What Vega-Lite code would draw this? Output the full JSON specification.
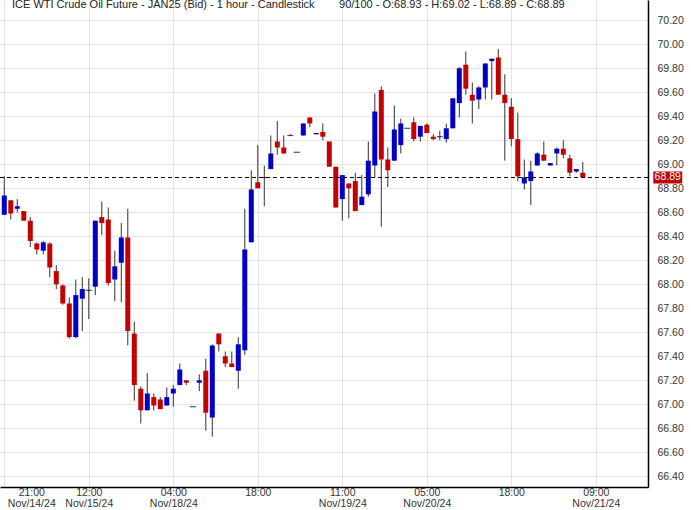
{
  "$schema": "https://vega.github.io/schema/vega-lite/v6.json",
  "width": 648,
  "height": 487,
  "autosize": {"type": "none"},
  "padding": {"left": 0, "top": 0, "right": 43, "bottom": 23},
  "background": "white",
  "config": {
    "view": {"stroke": null},
    "font": "Liberation Sans",
    "axisY": {"labelOverlap": false},
    "axisX": {"labelOverlap": false}
  },
  "title": {
    "text": "ICE WTI Crude Oil Future - JAN25 (Bid) - 1 hour - Candlestick\u00a0\u00a0\u00a0\u00a0\u00a0\u00a0\u00a0 90/100 - O:68.93 - H:69.02 - L:68.89 - C:68.89",
    "anchor": "start",
    "frame": "group",
    "orient": "top",
    "offset": 0,
    "dx": 12,
    "dy": 19,
    "baseline": "alphabetic",
    "font": "Liberation Sans",
    "fontSize": 11,
    "fontWeight": "normal",
    "color": "#222222"
  },
  "datasets": {
    "candles": [
      {"i":0,"o":68.58,"h":68.90,"l":68.58,"c":68.74},
      {"i":1,"o":68.70,"h":68.70,"l":68.54,"c":68.59},
      {"i":2,"o":68.63,"h":68.71,"l":68.60,"c":68.65},
      {"i":3,"o":68.61,"h":68.61,"l":68.53,"c":68.53},
      {"i":4,"o":68.53,"h":68.56,"l":68.31,"c":68.36},
      {"i":5,"o":68.34,"h":68.35,"l":68.25,"c":68.29},
      {"i":6,"o":68.28,"h":68.36,"l":68.25,"c":68.35},
      {"i":7,"o":68.34,"h":68.35,"l":68.06,"c":68.14},
      {"i":8,"o":68.11,"h":68.16,"l":67.96,"c":68.00},
      {"i":9,"o":67.99,"h":68.00,"l":67.83,"c":67.84},
      {"i":10,"o":67.84,"h":67.89,"l":67.55,"c":67.56},
      {"i":11,"o":67.56,"h":68.04,"l":67.55,"c":67.91},
      {"i":12,"o":67.88,"h":68.06,"l":67.61,"c":67.96},
      {"i":13,"o":67.95,"h":68.05,"l":67.71,"c":67.95},
      {"i":14,"o":67.98,"h":68.53,"l":67.91,"c":68.53},
      {"i":15,"o":68.56,"h":68.69,"l":68.41,"c":68.51},
      {"i":16,"o":68.54,"h":68.64,"l":67.99,"c":68.01},
      {"i":17,"o":68.04,"h":68.28,"l":67.86,"c":68.15},
      {"i":18,"o":68.18,"h":68.51,"l":67.85,"c":68.39},
      {"i":19,"o":68.39,"h":68.63,"l":67.49,"c":67.61},
      {"i":20,"o":67.59,"h":67.69,"l":67.03,"c":67.16},
      {"i":21,"o":67.13,"h":67.15,"l":66.84,"c":66.95},
      {"i":22,"o":66.95,"h":67.26,"l":66.95,"c":67.09},
      {"i":23,"o":67.06,"h":67.09,"l":66.95,"c":66.99},
      {"i":24,"o":67.04,"h":67.06,"l":66.96,"c":66.96},
      {"i":25,"o":66.99,"h":67.14,"l":66.99,"c":67.06},
      {"i":26,"o":67.09,"h":67.16,"l":66.98,"c":67.13},
      {"i":27,"o":67.16,"h":67.34,"l":67.16,"c":67.29},
      {"i":28,"o":67.20,"h":67.20,"l":67.16,"c":67.18},
      {"i":29,"o":66.98,"h":66.98,"l":66.98,"c":66.98},
      {"i":30,"o":67.18,"h":67.25,"l":67.11,"c":67.20},
      {"i":31,"o":67.28,"h":67.38,"l":66.78,"c":66.93},
      {"i":32,"o":66.89,"h":67.50,"l":66.73,"c":67.49},
      {"i":33,"o":67.59,"h":67.59,"l":67.44,"c":67.50},
      {"i":34,"o":67.40,"h":67.44,"l":67.31,"c":67.34},
      {"i":35,"o":67.34,"h":67.44,"l":67.31,"c":67.31},
      {"i":36,"o":67.28,"h":67.56,"l":67.13,"c":67.50},
      {"i":37,"o":67.45,"h":68.63,"l":67.41,"c":68.29},
      {"i":38,"o":68.35,"h":68.95,"l":68.35,"c":68.79},
      {"i":39,"o":68.85,"h":69.16,"l":68.80,"c":68.80},
      {"i":40,"o":68.89,"h":68.99,"l":68.65,"c":68.89},
      {"i":41,"o":68.96,"h":69.24,"l":68.96,"c":69.09},
      {"i":42,"o":69.19,"h":69.36,"l":69.08,"c":69.14},
      {"i":43,"o":69.14,"h":69.24,"l":69.09,"c":69.09},
      {"i":44,"o":69.24,"h":69.25,"l":69.24,"c":69.24},
      {"i":45,"o":69.10,"h":69.10,"l":69.10,"c":69.10},
      {"i":46,"o":69.24,"h":69.34,"l":69.24,"c":69.34},
      {"i":47,"o":69.39,"h":69.39,"l":69.31,"c":69.34},
      {"i":48,"o":69.25,"h":69.26,"l":69.25,"c":69.26},
      {"i":49,"o":69.27,"h":69.34,"l":69.20,"c":69.23},
      {"i":50,"o":69.19,"h":69.19,"l":68.98,"c":68.98},
      {"i":51,"o":68.98,"h":68.98,"l":68.64,"c":68.64},
      {"i":52,"o":68.71,"h":68.91,"l":68.53,"c":68.91},
      {"i":53,"o":68.84,"h":68.84,"l":68.55,"c":68.80},
      {"i":54,"o":68.86,"h":68.93,"l":68.61,"c":68.61},
      {"i":55,"o":68.66,"h":68.91,"l":68.66,"c":68.73},
      {"i":56,"o":68.75,"h":69.19,"l":68.73,"c":69.03},
      {"i":57,"o":68.99,"h":69.59,"l":68.89,"c":69.44},
      {"i":58,"o":69.62,"h":69.65,"l":68.48,"c":69.04},
      {"i":59,"o":69.04,"h":69.14,"l":68.81,"c":68.95},
      {"i":60,"o":69.03,"h":69.49,"l":69.03,"c":69.29},
      {"i":61,"o":69.16,"h":69.38,"l":69.09,"c":69.34},
      {"i":62,"o":69.30,"h":69.30,"l":69.30,"c":69.30},
      {"i":63,"o":69.35,"h":69.39,"l":69.19,"c":69.21},
      {"i":64,"o":69.23,"h":69.32,"l":69.19,"c":69.32},
      {"i":65,"o":69.33,"h":69.34,"l":69.26,"c":69.26},
      {"i":66,"o":69.23,"h":69.25,"l":69.20,"c":69.21},
      {"i":67,"o":69.23,"h":69.28,"l":69.20,"c":69.23},
      {"i":68,"o":69.21,"h":69.34,"l":69.18,"c":69.30},
      {"i":69,"o":69.30,"h":69.55,"l":69.30,"c":69.55},
      {"i":70,"o":69.51,"h":69.81,"l":69.39,"c":69.80},
      {"i":71,"o":69.83,"h":69.94,"l":69.58,"c":69.63},
      {"i":72,"o":69.58,"h":69.68,"l":69.34,"c":69.53},
      {"i":73,"o":69.54,"h":69.65,"l":69.46,"c":69.64},
      {"i":74,"o":69.64,"h":69.84,"l":69.54,"c":69.84},
      {"i":75,"o":69.86,"h":69.88,"l":69.54,"c":69.88},
      {"i":76,"o":69.89,"h":69.96,"l":69.58,"c":69.58},
      {"i":77,"o":69.58,"h":69.75,"l":69.03,"c":69.51},
      {"i":78,"o":69.48,"h":69.55,"l":69.15,"c":69.21},
      {"i":79,"o":69.21,"h":69.43,"l":68.86,"c":68.90},
      {"i":80,"o":68.84,"h":69.04,"l":68.79,"c":68.89},
      {"i":81,"o":68.86,"h":69.03,"l":68.66,"c":68.94},
      {"i":82,"o":68.99,"h":69.10,"l":68.99,"c":69.09},
      {"i":83,"o":69.08,"h":69.19,"l":69.03,"c":69.03},
      {"i":84,"o":68.99,"h":69.01,"l":68.99,"c":69.01},
      {"i":85,"o":69.09,"h":69.14,"l":68.99,"c":69.13},
      {"i":86,"o":69.13,"h":69.20,"l":69.05,"c":69.08},
      {"i":87,"o":69.05,"h":69.08,"l":68.90,"c":68.93},
      {"i":88,"o":68.94,"h":68.96,"l":68.93,"c":68.96},
      {"i":89,"o":68.93,"h":69.02,"l":68.89,"c":68.89}
    ],
    "last": [{"last": 68.89}]
  },
  "layer": [
    {
      "data": {"name": "candles"},
      "mark": {"type": "rule", "color": "#333333", "strokeWidth": 1},
      "encoding": {
        "x": {
          "field": "i", "type": "quantitative",
          "scale": {"domain": [-0.66, 99.03], "nice": false, "zero": false, "padding": 0},
          "axis": {
            "orient": "bottom",
            "title": null,
            "values": [0, 13, 26, 39, 52, 65, 78, 91],
            "tickCount": 20,
            "grid": true,
            "gridColor": "#e4e4e4",
            "gridWidth": 1,
            "ticks": false,
            "domainColor": "#000000",
            "domainWidth": 1.5,
            "labelFont": "Liberation Sans",
            "labelFontSize": 10.5,
            "labelColor": "#333333",
            "labelPadding": 0,
            "labelLineHeight": 11,
            "labelFlush": false,
            "labelOverlap": false,
            "labelBaseline": "top",
            "labelOffset": {"condition": {"test": "datum.value === 0", "value": 27}, "value": 0},
            "labelExpr": "datum.value === 0 ? ['21:00', 'Nov/14/24'] : datum.value === 13 ? ['12:00', 'Nov/15/24'] : datum.value === 26 ? ['04:00', 'Nov/18/24'] : datum.value === 39 ? '18:00' : datum.value === 52 ? ['11:00', 'Nov/19/24'] : datum.value === 65 ? ['05:00', 'Nov/20/24'] : datum.value === 78 ? '18:00' : ['09:00', 'Nov/21/24']"
          }
        },
        "y": {
          "field": "l", "type": "quantitative",
          "scale": {"domain": [66.311, 70.369], "nice": false, "zero": false, "padding": 0},
          "axis": {
            "orient": "right",
            "title": null,
            "values": [66.4, 66.6, 66.8, 67.0, 67.2, 67.4, 67.6, 67.8, 68.0, 68.2, 68.4, 68.6, 68.8, 69.0, 69.2, 69.4, 69.6, 69.8, 70.0, 70.2],
            "tickCount": 40,
            "format": ".2f",
            "grid": true,
            "gridColor": "#e4e4e4",
            "gridWidth": 1,
            "ticks": false,
            "domainColor": "#000000",
            "domainWidth": 1.5,
            "labelFont": "Liberation Sans",
            "labelFontSize": 10.5,
            "labelColor": "#333333",
            "labelPadding": 9,
            "labelAlign": "left",
            "labelOverlap": false
          }
        },
        "y2": {"field": "h"}
      }
    },
    {
      "data": {"name": "candles"},
      "transform": [{"filter": "datum.o !== datum.c"}],
      "mark": {"type": "bar", "width": 5},
      "encoding": {
        "x": {"field": "i", "type": "quantitative"},
        "y": {"field": "o", "type": "quantitative"},
        "y2": {"field": "c"},
        "color": {"condition": {"test": "datum.c > datum.o", "value": "#0000c8"}, "value": "#c40000"}
      }
    },
    {
      "data": {"name": "candles"},
      "transform": [{"filter": "datum.o === datum.c"}],
      "mark": {"type": "tick", "orient": "horizontal", "size": 6, "thickness": 1.2, "color": "#000000"},
      "encoding": {
        "x": {"field": "i", "type": "quantitative"},
        "y": {"field": "o", "type": "quantitative"}
      }
    },
    {
      "data": {"name": "last"},
      "mark": {"type": "rule", "color": "#000000", "strokeWidth": 1, "strokeDash": [4, 3]},
      "encoding": {
        "y": {"field": "last", "type": "quantitative"}
      }
    },
    {
      "data": {"name": "last"},
      "mark": {"type": "rect", "color": "#c00000", "yOffset": -6, "y2Offset": 6},
      "encoding": {
        "x": {"datum": 99.85, "type": "quantitative"},
        "x2": {"datum": 104.3},
        "y": {"field": "last", "type": "quantitative"},
        "y2": {"field": "last"}
      }
    },
    {
      "data": {"name": "last"},
      "mark": {"type": "text", "color": "#ffffff", "font": "Liberation Sans", "fontSize": 10.5, "align": "center", "baseline": "middle"},
      "encoding": {
        "x": {"datum": 102.07, "type": "quantitative"},
        "y": {"field": "last", "type": "quantitative"},
        "text": {"field": "last", "type": "quantitative", "format": ".2f"}
      }
    }
  ]
}
